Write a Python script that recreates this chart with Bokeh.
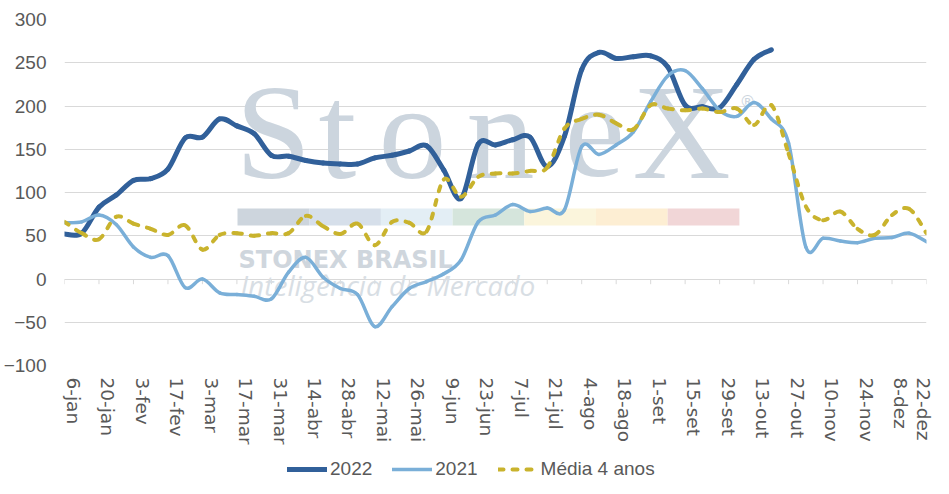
from bokeh.plotting import figure
from bokeh.layouts import column
from bokeh.models import (ColumnDataSource, Range1d, LinearAxis, FixedTicker,
                          Legend, LegendItem, Label, BoxAnnotation)
from bokeh.embed import file_html
from bokeh.resources import INLINE

# ---------------- data ----------------
weeks = ["6-jan", "13-jan", "20-jan", "27-jan", "3-fev", "10-fev", "17-fev", "24-fev",
         "3-mar", "10-mar", "17-mar", "24-mar", "31-mar", "7-abr", "14-abr", "21-abr",
         "28-abr", "5-mai", "12-mai", "19-mai", "26-mai", "2-jun", "9-jun", "16-jun",
         "23-jun", "30-jun", "7-jul", "14-jul", "21-jul", "28-jul", "4-ago", "11-ago",
         "18-ago", "25-ago", "1-set", "8-set", "15-set", "22-set", "29-set", "6-out",
         "13-out", "20-out", "27-out", "3-nov", "10-nov", "17-nov", "24-nov", "1-dez",
         "8-dez", "15-dez", "22-dez"]

s2022 = [52, 53, 83, 97, 114, 116, 127, 163, 164, 185, 177, 168, 143, 142, 137, 134,
         133, 133, 140, 143, 148, 154, 126, 93, 156, 155, 161, 164, 130, 165, 242, 262,
         255, 257, 258, 245, 201, 199, 198, 225, 254, 265]

s2021 = [65, 66, 74, 63, 37, 25, 27, -10, 0, -16, -18, -20, -23, 8, 25, 2,
         -11, -18, -55, -32, -11, -3, 6, 22, 66, 74, 86, 78, 82, 80, 153, 144,
         155, 170, 205, 235, 241, 220, 195, 188, 204, 185, 157, 37, 47, 44, 42,
         47, 48, 53, 43]

media = [66, 53, 46, 72, 64, 58, 51, 62, 34, 51, 53, 50, 53, 53, 73, 61,
         52, 64, 39, 66, 65, 55, 115, 95, 118, 122, 122, 125, 129, 174, 185, 190,
         180, 173, 201, 197, 195, 197, 193, 197, 178, 201, 145, 84, 68, 78, 58,
         51, 74, 81, 53]

y_ticks = [-100, -50, 0, 50, 100, 150, 200, 250, 300]
tick_idx = list(range(0, len(weeks), 2))

series_names = ["2022", "2021", "Média 4 anos"]
series_colors = ["#31609a", "#7aafd8", "#c9b32d"]
series_widths = [5, 3.5, 4]
series_dash = ["solid", "solid", "5 9"]


def smooth_source(ys):
    """Smooth (Catmull-Rom) curve through the weekly points, as cubic Bezier pieces."""
    xs = list(range(len(ys)))
    n = len(ys)
    d = dict(x0=[], y0=[], x1=[], y1=[], cx0=[], cy0=[], cx1=[], cy1=[])
    for i in range(n - 1):
        a = max(i - 1, 0)
        b = min(i + 2, n - 1)
        d["x0"].append(xs[i]); d["y0"].append(ys[i])
        d["x1"].append(xs[i + 1]); d["y1"].append(ys[i + 1])
        d["cx0"].append(xs[i] + (xs[i + 1] - xs[a]) / 6.0)
        d["cy0"].append(ys[i] + (ys[i + 1] - ys[a]) / 6.0)
        d["cx1"].append(xs[i + 1] - (xs[b] - xs[i]) / 6.0)
        d["cy1"].append(ys[i + 1] - (ys[b] - ys[i]) / 6.0)
    return ColumnDataSource(d)


# ---------------- main figure ----------------
last = len(weeks) - 1
p = figure(width=933, height=452, output_backend="svg", toolbar_location=None,
           x_range=Range1d(0, last), y_range=Range1d(-100, 300),
           x_axis_location=None, y_axis_location="left",
           min_border_left=62, min_border_right=7, min_border_top=19,
           min_border_bottom=87)
p.outline_line_color = None
p.background_fill_color = "white"
p.border_fill_color = "white"

p.xgrid.visible = False
p.yaxis.ticker = FixedTicker(ticks=y_ticks)
p.ygrid.grid_line_color = "#d9d9d9"
p.ygrid.grid_line_width = 1
p.yaxis.axis_line_color = None
p.yaxis.major_tick_line_color = None
p.yaxis.major_tick_out = 0
p.yaxis.major_tick_in = 0
p.yaxis.minor_tick_line_color = None
p.yaxis.major_label_standoff = 18
p.yaxis.major_label_text_font = "Liberation Sans"
p.yaxis.major_label_text_font_size = "19px"
p.yaxis.major_label_text_color = "#595959"

# week labels: vertical text is anchored on its baseline, so nudge each label
# half a week to the right to centre the glyphs on their week (last stays inside range)
lab_pos = [min(i + 0.5, last) for i in tick_idx]
xlab = LinearAxis(ticker=FixedTicker(ticks=lab_pos),
                  major_label_overrides={pos: weeks[i] for pos, i in zip(lab_pos, tick_idx)},
                  major_label_orientation="vertical",
                  axis_line_color=None, major_tick_line_color=None,
                  major_tick_out=0, major_tick_in=0,
                  minor_tick_line_color=None, major_label_standoff=12,
                  major_label_text_font="DejaVu Sans",
                  major_label_text_font_size="18.5px",
                  major_label_text_color="#595959")
p.add_layout(xlab, "below")

# small tick marks hanging from the zero line, one per labelled week
p.segment(x0=tick_idx, y0=[0] * len(tick_idx), x1=tick_idx, y1=[-6] * len(tick_idx),
          line_color="#d9d9d9", line_width=1, level="underlay")

# ---------------- watermark ----------------
wm_color = "#ccd5de"
bar_colors = ["#cdd5dd", "#d6dfea", "#e3eef5", "#d5e5dc", "#fbf5dc", "#fdeed3", "#f1d6d7"]
for k, c in enumerate(bar_colors):
    p.add_layout(BoxAnnotation(left=173 + 71.7 * k, right=173 + 71.7 * (k + 1),
                               bottom=140, top=157,
                               left_units="screen", right_units="screen",
                               top_units="screen", bottom_units="screen",
                               fill_color=c, fill_alpha=1.0, line_color=None,
                               level="underlay"))

for ch, xx in zip("StoneX", [171, 254, 314, 402, 500, 568]):
    p.add_layout(Label(x=xx, y=234, x_units="screen", y_units="screen", text=ch,
                       text_font="Liberation Serif", text_font_size="136px",
                       text_color=wm_color, text_baseline="alphabetic",
                       level="underlay"))
p.add_layout(Label(x=675, y=264, x_units="screen", y_units="screen", text="®",
                   text_font="DejaVu Sans", text_font_size="16px",
                   text_color=wm_color, text_baseline="alphabetic", level="underlay"))
p.add_layout(Label(x=174, y=106, x_units="screen", y_units="screen",
                   text="STONEX BRASIL", text_font="DejaVu Sans",
                   text_font_style="bold", text_font_size="24px",
                   text_color="#cfd6dd", text_baseline="alphabetic", level="underlay"))
p.add_layout(Label(x=176, y=81, x_units="screen", y_units="screen",
                   text="Inteligência de Mercado", text_font="Open Sans",
                   text_font_style="italic", text_font_size="28px",
                   text_color="#d8dee4", text_baseline="alphabetic", level="underlay"))

# ---------------- series ----------------
renderers = []
for ys, col, w, dash in zip([s2022, s2021, media], series_colors, series_widths, series_dash):
    renderers.append(p.bezier(x0="x0", y0="y0", x1="x1", y1="y1", cx0="cx0", cy0="cy0",
                              cx1="cx1", cy1="cy1", source=smooth_source(ys),
                              line_color=col, line_width=w, line_cap="round",
                              line_dash=dash))

# ---------------- legend strip ----------------
lf = figure(width=933, height=34, output_backend="svg", toolbar_location=None,
            x_range=Range1d(0, 1), y_range=Range1d(0, 1),
            x_axis_location=None, y_axis_location=None,
            min_border_left=0, min_border_right=0, min_border_top=0, min_border_bottom=0)
lf.outline_line_color = None
lf.xgrid.visible = False
lf.ygrid.visible = False
lf.background_fill_color = "white"
lf.border_fill_color = "white"

# key lines carry the series data but stay hidden; they only feed the legend
key_lines = []
for ys, col, w, dash in zip([s2022, s2021, media], series_colors, series_widths, series_dash):
    key_lines.append(lf.line(x=list(range(len(ys))), y=ys, line_color=col, line_width=w,
                             line_cap="round", line_dash=dash, visible=False))

legend = Legend(items=[LegendItem(label=n, renderers=[r]) for n, r in zip(series_names, key_lines)],
                orientation="horizontal", location=(223, 6),
                glyph_width=40, glyph_height=20, label_standoff=3, spacing=20,
                padding=0, margin=0, border_line_color=None,
                background_fill_alpha=0, inactive_fill_alpha=0,
                label_text_font="Liberation Sans", label_text_font_size="19px",
                label_text_color="#595959")
lf.add_layout(legend, "center")

open("out.html", "w").write(file_html(column(p, lf), INLINE))
